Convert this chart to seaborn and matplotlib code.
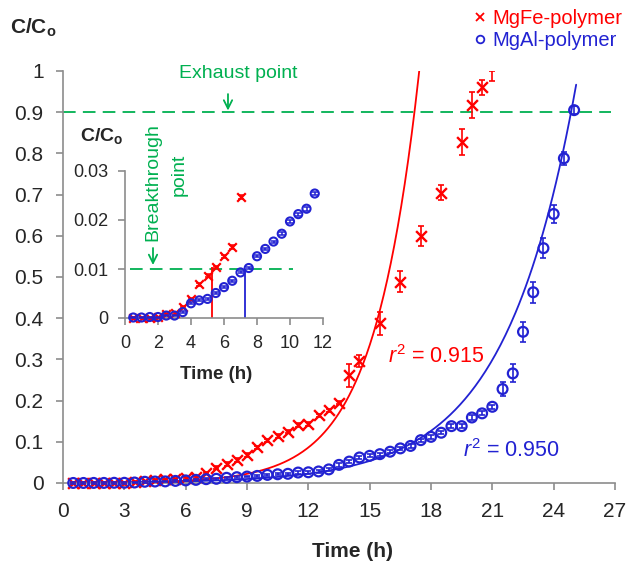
import numpy as np
import matplotlib
matplotlib.use("Agg")
import matplotlib.pyplot as plt
import seaborn as sns
from matplotlib.lines import Line2D

# ---------------- data ----------------
series_labels = ["MgFe-polymer", "MgAl-polymer"]

red_t = [0.5, 1.0, 1.5, 2.0, 2.5, 3.0, 3.5, 4.0, 4.5, 5.0, 5.5, 6.0, 6.5, 7.0,
         7.5, 8.0, 8.5, 9.0, 9.5, 10.0, 10.5, 11.0, 11.5, 12.0, 12.5, 13.0, 13.5,
         14.0, 14.5, 15.5, 16.5, 17.5, 18.5, 19.5, 20.0, 20.5]
red_y = [0.0001, 0.0001, 0.0001, 0.0002, 0.0008, 0.0010, 0.0022, 0.0039, 0.0069,
         0.0086, 0.0104, 0.0126, 0.0145, 0.0246,
         0.037, 0.046, 0.056, 0.068, 0.087, 0.104, 0.114, 0.125, 0.141, 0.143,
         0.164, 0.176, 0.195,
         0.262, 0.296, 0.388, 0.489, 0.600, 0.705, 0.828, 0.917, 0.960]
red_err = [0.002, 0.002, 0.002, 0.002, 0.002, 0.002, 0.002, 0.002, 0.002,
           0.002, 0.002, 0.002, 0.002, 0.003,
           0.004, 0.004, 0.004, 0.004, 0.004, 0.004, 0.004, 0.004, 0.004, 0.004,
           0.004, 0.004, 0.004,
           0.028, 0.014, 0.028, 0.025, 0.025, 0.018, 0.032, 0.032, 0.018]
# last replicate: only its error bar is visible
red_last_t = [21.0]
red_last_y = [0.987]
red_last_err = [0.012]

blue_t = [0.5, 1.0, 1.5, 2.0, 2.5, 3.0, 3.5, 4.0, 4.5, 5.0, 5.5, 6.0, 6.5, 7.0,
          7.5, 8.0, 8.5, 9.0, 9.5, 10.0, 10.5, 11.0, 11.5, 12.0, 12.5, 13.0,
          13.5, 14.0, 14.5, 15.0, 15.5, 16.0, 16.5, 17.0, 17.5, 18.0, 18.5,
          19.0, 19.5, 20.0, 20.5, 21.0, 21.5, 22.0, 22.5, 23.0, 23.5, 24.0,
          24.5, 25.0]
blue_y = [0.0001, 0.0001, 0.0002, 0.0002, 0.0005, 0.0005, 0.0012, 0.0030,
          0.0036, 0.0039, 0.0051, 0.0063, 0.0076, 0.0093, 0.0102, 0.0126,
          0.0141, 0.0156, 0.0172, 0.0197, 0.0212, 0.0223, 0.0254, 0.026,
          0.028, 0.033, 0.044, 0.052, 0.062, 0.066, 0.070, 0.076, 0.084,
          0.090, 0.104, 0.112, 0.122, 0.138, 0.138, 0.159, 0.169, 0.185,
          0.228, 0.266, 0.367, 0.463, 0.570, 0.653, 0.788, 0.905]
blue_err = [0.002, 0.002, 0.002, 0.002, 0.002, 0.002, 0.002, 0.002, 0.002,
            0.002, 0.002, 0.002, 0.002, 0.002, 0.002, 0.002, 0.002, 0.002,
            0.002, 0.002, 0.002, 0.002, 0.003, 0.003, 0.003, 0.003, 0.004,
            0.004, 0.004, 0.004, 0.004, 0.004, 0.004, 0.004, 0.004, 0.004,
            0.004, 0.005, 0.005, 0.005, 0.005, 0.005, 0.018, 0.022, 0.024,
            0.025, 0.024, 0.021, 0.016, 0.010]

# inset (zoom of the early breakthrough region)
inset_red_err = [0.0001, 0.0001, 0.0001, 0.0001, 0.0002, 0.0002, 0.0002,
                 0.0002, 0.0003, 0.0003, 0.0002, 0.0003, 0.0004, 0.0004]
inset_blue_err = [0.0001, 0.0001, 0.0001, 0.0001, 0.0001, 0.0001, 0.0002,
                  0.0002, 0.0002, 0.0002, 0.0002, 0.0002, 0.0002, 0.0002,
                  0.0002, 0.0002, 0.0002, 0.0002, 0.0003, 0.0003, 0.0003,
                  0.0004, 0.0004]
breakthrough_level = 0.01
breakthrough_times = [5.28, 7.3]        # MgFe, MgAl
breakthrough_heights = [0.0104, 0.0095]
exhaust_level = 0.9

# exponential trend lines (y = A * exp(k t))
fit_red = dict(A=0.00038, k=0.452, t_end=17.45)
fit_blue = dict(A=0.00073, k=0.2864, t_end=25.1)
r2_labels = ["0.915", "0.950"]

main_xticks = [0, 3, 6, 9, 12, 15, 18, 21, 24, 27]
main_yticks = [0, 0.1, 0.2, 0.3, 0.4, 0.5, 0.6, 0.7, 0.8, 0.9, 1.0]
main_ytick_labels = ["0", "0.1", "0.2", "0.3", "0.4", "0.5", "0.6", "0.7",
                     "0.8", "0.9", "1"]
inset_xticks = [0, 2, 4, 6, 8, 10, 12]
inset_yticks = [0, 0.01, 0.02, 0.03]
inset_ytick_labels = ["0", "0.01", "0.02", "0.03"]

# ---------------- style ----------------
sns.set_style("ticks")
plt.rcParams["font.family"] = ["Liberation Sans", "DejaVu Sans"]
plt.rcParams["mathtext.fontset"] = "custom"
plt.rcParams["mathtext.rm"] = "Liberation Sans"
plt.rcParams["mathtext.it"] = "Liberation Sans:italic"
plt.rcParams["mathtext.bf"] = "Liberation Sans:bold"

RED = "#ff0000"
BLUE = "#2222d2"
GREEN = "#00b050"
SPINE = "#8c8c8c"

W, H = 628, 564
fig = plt.figure(figsize=(W / 100, H / 100), dpi=100)
ax = fig.add_axes([63 / W, 1 - 483 / H, 552 / W, 412 / H])

red_t_a = np.array(red_t); red_y_a = np.array(red_y)
blue_t_a = np.array(blue_t); blue_y_a = np.array(blue_y)

# trend lines
tr = np.linspace(0.5, fit_red["t_end"], 300)
tb = np.linspace(0.5, fit_blue["t_end"], 300)
sns.lineplot(x=tr, y=fit_red["A"] * np.exp(fit_red["k"] * tr), color=RED,
             lw=1.3, ax=ax, zorder=2)
sns.lineplot(x=tb, y=fit_blue["A"] * np.exp(fit_blue["k"] * tb), color=BLUE,
             lw=1.3, ax=ax, zorder=2)

# error bars
ax.errorbar(red_t, red_y, yerr=red_err, fmt="none", ecolor=RED, elinewidth=1.2,
            capsize=2.5, capthick=1.2, zorder=3, clip_on=False)
ax.errorbar(red_last_t, red_last_y, yerr=red_last_err, fmt="none", ecolor=RED,
            elinewidth=1.2, capsize=2.5, capthick=1.2, zorder=3)
ax.errorbar(blue_t, blue_y, yerr=blue_err, fmt="none", ecolor=BLUE,
            elinewidth=1.2, capsize=2.5, capthick=1.2, zorder=4, clip_on=False)

# markers
sns.scatterplot(x=red_t, y=red_y, marker="x", color=RED, s=60, linewidth=1.7,
                ax=ax, zorder=3, clip_on=False)
sns.scatterplot(x=blue_t, y=blue_y, marker="o", s=50, facecolors="none",
                edgecolor=BLUE, linewidth=1.6, ax=ax, zorder=4, clip_on=False)

# exhaust line
ax.hlines(exhaust_level, 0, 26.8, colors=GREEN, linestyles=(0, (7, 4)), lw=1.3,
          zorder=1)
ax.text(8.56, 0.995, "Exhaust point", color=GREEN, fontsize=14, ha="center",
        va="center")
ax.annotate("", xy=(8.07, 0.904), xytext=(8.07, 0.944),
            arrowprops=dict(arrowstyle="->", color=GREEN, lw=1.3,
                            mutation_scale=15, shrinkA=0, shrinkB=0))

ax.text(18.25, 0.306, r"$\mathit{r}^{2}$ = " + r2_labels[0], color=RED,
        fontsize=15.5, ha="center", va="center")
ax.text(21.92, 0.078, r"$\mathit{r}^{2}$ = " + r2_labels[1], color=BLUE,
        fontsize=15.5, ha="center", va="center")

ax.set_xlim(0, 27)
ax.set_ylim(0, 1)
ax.set_xticks(main_xticks)
ax.set_yticks(main_yticks)
ax.set_yticklabels(main_ytick_labels)
ax.tick_params(direction="out", length=5, width=1.2, color=SPINE,
               labelsize=15, pad=9)
for s in ["top", "right"]:
    ax.spines[s].set_visible(False)
for s in ["left", "bottom"]:
    ax.spines[s].set_color(SPINE)
    ax.spines[s].set_linewidth(1.2)
ax.set_xlabel("Time (h)", fontsize=15, fontweight="bold")
ax.xaxis.set_label_coords((352 - 63) / 552, (483 - 542) / 412)
ax.set_ylabel("")
fig.text(33 / W, 1 - 28 / H, r"C/C$_\mathbf{o}$", fontsize=15,
         fontweight="bold", ha="center", va="center")

# legend
handles = [Line2D([], [], marker="x", color=RED, ls="none", ms=5.5, mew=1.3),
           Line2D([], [], marker="o", mfc="none", mec=BLUE, ls="none", ms=5.5,
                  mew=1.3)]
fig.legend(handles, series_labels, loc="upper right",
           bbox_to_anchor=(622 / W, 1 - 9 / H), frameon=False,
           fontsize=14.5, handlelength=0.5, handletextpad=0.35,
           labelspacing=0.15, borderpad=0, borderaxespad=0,
           labelcolor=[RED, BLUE])

# ---------------- inset ----------------
ins = fig.add_axes([125 / W, 1 - 318 / H, 198 / W, 147 / H])
ins.set_facecolor("none")
r_mask = red_t_a <= 7.0
b_mask = blue_t_a <= 11.5
ins.hlines(breakthrough_level, 0.3, 10.2, colors=GREEN,
           linestyles=(0, (7, 4)), lw=1.3, zorder=1)
ins.vlines(breakthrough_times[0], 0, breakthrough_heights[0], colors=RED,
           lw=1.3, zorder=2)
ins.vlines(breakthrough_times[1], 0, breakthrough_heights[1], colors=BLUE,
           lw=1.3, zorder=2)
ins.errorbar(red_t_a[r_mask], red_y_a[r_mask], yerr=inset_red_err, fmt="none",
             ecolor=RED, elinewidth=1.1, capsize=2, capthick=1.1, zorder=3,
             clip_on=False)
ins.errorbar(blue_t_a[b_mask], blue_y_a[b_mask], yerr=inset_blue_err,
             fmt="none", ecolor=BLUE, elinewidth=1.1, capsize=2, capthick=1.1,
             zorder=4, clip_on=False)
sns.scatterplot(x=red_t_a[r_mask], y=red_y_a[r_mask], marker="x", color=RED,
                s=38, linewidth=1.6, ax=ins, zorder=3, clip_on=False)
sns.scatterplot(x=blue_t_a[b_mask], y=blue_y_a[b_mask], marker="o", s=34,
                facecolors="none", edgecolor=BLUE, linewidth=1.5, ax=ins,
                zorder=4, clip_on=False)
ins.set_xlim(0, 12)
ins.set_ylim(0, 0.03)
ins.set_xticks(inset_xticks)
ins.set_yticks(inset_yticks)
ins.set_yticklabels(inset_ytick_labels)
ins.tick_params(direction="out", length=5, width=1.2, color=SPINE,
                labelsize=13, pad=7)
for s in ["top", "right"]:
    ins.spines[s].set_visible(False)
for s in ["left", "bottom"]:
    ins.spines[s].set_color(SPINE)
    ins.spines[s].set_linewidth(1.2)
ins.set_xlabel("Time (h)", fontsize=13.5, fontweight="bold")
ins.xaxis.set_label_coords((216 - 125) / 198, (318 - 366) / 147)
ins.set_ylabel("")
fig.text(102 / W, 1 - 136 / H, r"C/C$_\mathbf{o}$", fontsize=14,
         fontweight="bold", ha="center", va="center")
fig.text(153 / W, 1 - 182 / H, "Breakthrough", color=GREEN,
         fontsize=14, rotation=90, ha="center", va="center")
fig.text(179 / W, 1 - 175 / H, "point", color=GREEN, fontsize=14,
         rotation=90, ha="center", va="center")
fig.patches.append(matplotlib.patches.FancyArrowPatch(
    (153 / W, 1 - 248 / H), (153 / W, 1 - 265 / H), transform=fig.transFigure,
    arrowstyle="->", color=GREEN, lw=1.3, mutation_scale=15,
    shrinkA=0, shrinkB=0))

fig.savefig("out.png", dpi=100)
